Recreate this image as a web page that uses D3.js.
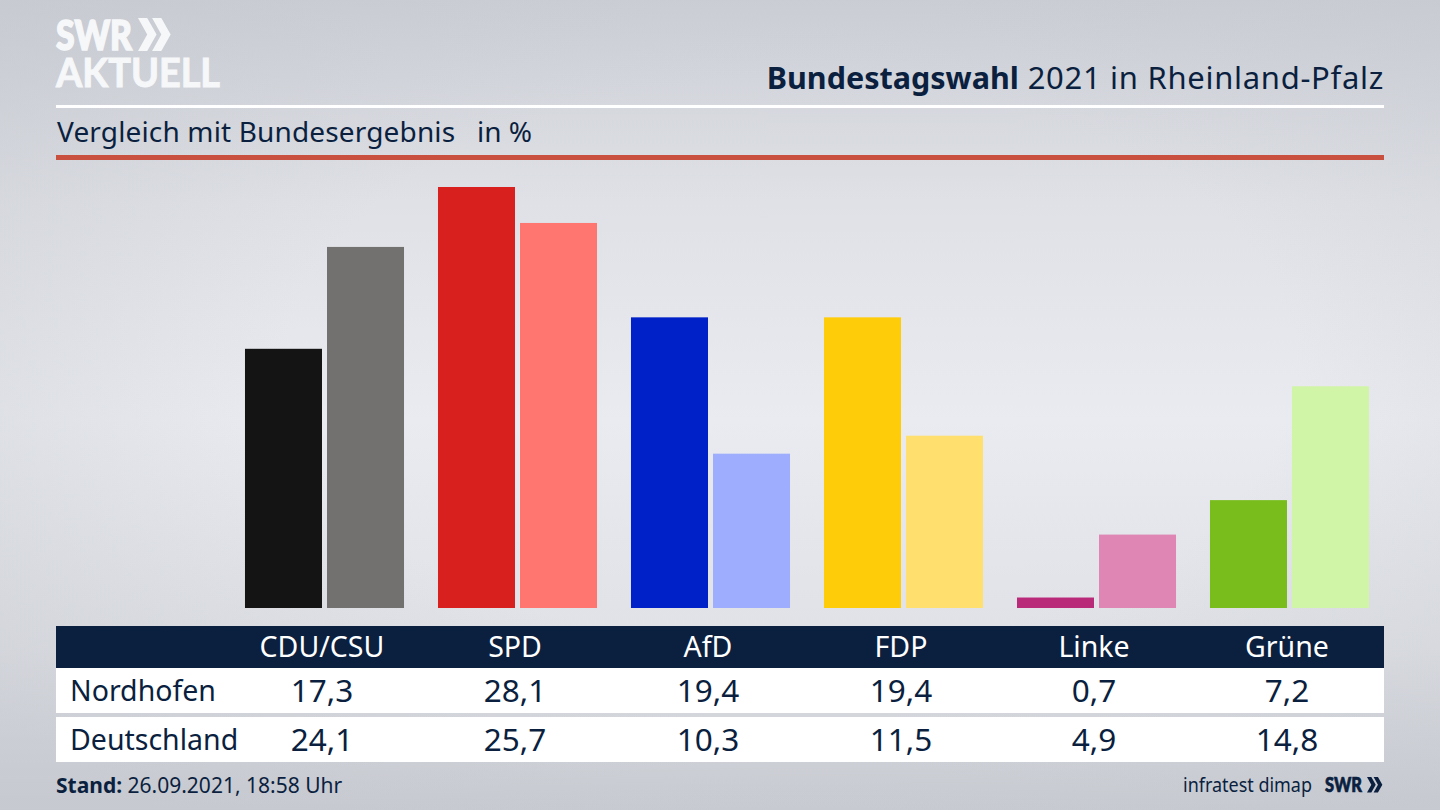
<!DOCTYPE html>
<html>
<head>
<meta charset="utf-8">
<script src="https://cdn.jsdelivr.net/npm/d3@7"></script>
<style>
    html, body { margin: 0; padding: 0; overflow: hidden; background: #d8dbe0; }
    svg { display: block; }
    text { font-family: "Noto Sans", sans-serif; fill: #0b1f3f; }
</style>
</head>
<body>
<script>
const parties = ["CDU/CSU", "SPD", "AfD", "FDP", "Linke", "Grüne"];
const regions = ["Nordhofen", "Deutschland"];
const nordhofen = [17.3, 28.1, 19.4, 19.4, 0.7, 7.2];
const deutschland = [24.1, 25.7, 10.3, 11.5, 4.9, 14.8];
const strongColors = ["#141414", "#d8201f", "#0021c8", "#ffcc0a", "#b92a78", "#79bd1c"];
const lightColors = ["#72716f", "#ff7570", "#9fadff", "#ffdf6e", "#e086b5", "#d1f5a6"];

const WIDTH = 1440;
const HEIGHT = 810;
const NAVY = "#0b1f3f";
const LOGO_WHITE = "#f6f7f9";

const svg = d3.select("body").append("svg")
    .attr("width", WIDTH)
    .attr("height", HEIGHT);

// background: grey at the top and bottom edges, lighter band through the middle
const defs = svg.append("defs");
const bg = defs.append("linearGradient").attr("id", "bg")
    .attr("x1", 0).attr("y1", 0).attr("x2", 0).attr("y2", 1);
bg.append("stop").attr("offset", "0%").attr("stop-color", "#cbced5");
bg.append("stop").attr("offset", "25%").attr("stop-color", "#dfe1e6");
bg.append("stop").attr("offset", "52%").attr("stop-color", "#e9ebf0");
bg.append("stop").attr("offset", "80%").attr("stop-color", "#dfe1e6");
bg.append("stop").attr("offset", "100%").attr("stop-color", "#c8cbd1");
const vignette = defs.append("radialGradient").attr("id", "vignette")
    .attr("cx", "55%").attr("cy", "45%").attr("r", "70%");
vignette.append("stop").attr("offset", "50%").attr("stop-color", "#c4c7ce").attr("stop-opacity", 0);
vignette.append("stop").attr("offset", "100%").attr("stop-color", "#c4c7ce").attr("stop-opacity", 0.5);

svg.append("rect").attr("width", WIDTH).attr("height", HEIGHT).attr("fill", "url(#bg)");
svg.append("rect").attr("width", WIDTH).attr("height", HEIGHT).attr("fill", "url(#vignette)");

// scales
const x = d3.scaleBand().domain(parties).range([228, 1386]).paddingInner(0.176).paddingOuter(0.088);
const inner = d3.scaleBand().domain(regions).range([0, x.bandwidth()]).paddingInner(0.061);
const y = d3.scaleLinear().domain([0, 28.1]).range([608, 187]);

// bars
const groups = svg.append("g").selectAll("g")
    .data(parties)
    .enter().append("g")
    .attr("transform", d => `translate(${x(d)},0)`);

groups.append("rect")
    .attr("x", inner("Nordhofen"))
    .attr("width", inner.bandwidth())
    .attr("y", (d, i) => y(nordhofen[i]))
    .attr("height", (d, i) => y(0) - y(nordhofen[i]))
    .attr("fill", (d, i) => strongColors[i]);

groups.append("rect")
    .attr("x", inner("Deutschland"))
    .attr("width", inner.bandwidth())
    .attr("y", (d, i) => y(deutschland[i]))
    .attr("height", (d, i) => y(0) - y(deutschland[i]))
    .attr("fill", (d, i) => lightColors[i]);

// header
svg.append("rect").attr("x", 56).attr("y", 105).attr("width", 1328).attr("height", 3).attr("fill", "#fff");
svg.append("rect").attr("x", 56).attr("y", 155).attr("width", 1328).attr("height", 5).attr("fill", "#c9503f");

const title = svg.append("text")
    .attr("x", 1384).attr("y", 89)
    .attr("text-anchor", "end")
    .attr("font-size", 30.5);
title.append("tspan").attr("font-weight", 700).text("Bundestagswahl");
title.append("tspan").attr("font-size", 31).attr("letter-spacing", 0.7).text(" 2021 in Rheinland-Pfalz");

svg.append("text")
    .attr("x", 57).attr("y", 142)
    .attr("font-size", 28)
    .attr("letter-spacing", 0.15)
    .text("Vergleich mit Bundesergebnis");
svg.append("text")
    .attr("x", 477).attr("y", 142)
    .attr("font-size", 28)
    .text("in %");

// logo
svg.append("text")
    .attr("x", 56).attr("y", 50)
    .attr("font-weight", 900)
    .attr("font-size", 41)
    .attr("textLength", 76)
    .attr("lengthAdjust", "spacingAndGlyphs")
    .attr("stroke", LOGO_WHITE)
    .attr("stroke-width", 1.6)
    .style("font-family", "Lato")
    .style("fill", LOGO_WHITE)
    .text("SWR");
svg.append("text")
    .attr("x", 56).attr("y", 87)
    .attr("font-weight", 700)
    .attr("font-size", 41)
    .attr("textLength", 164)
    .attr("lengthAdjust", "spacingAndGlyphs")
    .attr("stroke", LOGO_WHITE)
    .attr("stroke-width", 1)
    .style("font-family", "Lato")
    .style("fill", LOGO_WHITE)
    .text("AKTUELL");
function chevrons(parent, x0, top, h, color) {
    const w = h * 0.45;
    [0, w * 0.95].forEach(dx => {
        parent.append("path")
            .attr("d", d3.line()([
                [x0 + dx, top], [x0 + dx + w * 0.62, top], [x0 + dx + w * 1.25, top + h / 2],
                [x0 + dx + w * 0.62, top + h], [x0 + dx, top + h], [x0 + dx + w * 0.62, top + h / 2]
            ]) + "Z")
            .attr("fill", color);
    });
}
chevrons(svg, 138, 18, 33, LOGO_WHITE);

// table
const tableX = 56, tableW = 1328;
svg.append("rect").attr("x", tableX).attr("y", 626).attr("width", tableW).attr("height", 42).attr("fill", NAVY);
svg.append("rect").attr("x", tableX).attr("y", 668).attr("width", tableW).attr("height", 45).attr("fill", "#fff");
svg.append("rect").attr("x", tableX).attr("y", 717).attr("width", tableW).attr("height", 45).attr("fill", "#fff");

// table columns sit on the right edge of each party's first bar
const center = d => x(d) + inner.bandwidth();

svg.append("g").selectAll("text")
    .data(parties)
    .enter().append("text")
    .attr("x", center)
    .attr("y", 657)
    .attr("text-anchor", "middle")
    .attr("font-size", 28.5)
    .style("fill", "#fff")
    .text(d => d);

const formatValue = v => v.toFixed(1).replace(".", ",");

[[nordhofen, 701], [deutschland, 750]].forEach(([values, baseline], r) => {
    svg.append("text")
        .attr("x", 70).attr("y", baseline)
        .attr("font-size", 28.5)
        .text(regions[r]);
    svg.append("g").selectAll("text")
        .data(values)
        .enter().append("text")
        .attr("x", (d, i) => center(parties[i]))
        .attr("y", baseline + 1)
        .attr("text-anchor", "middle")
        .attr("font-size", 31.5)
        .text(formatValue);
});

// footer
const stand = svg.append("text").attr("x", 56).attr("y", 793).attr("font-size", 21);
stand.append("tspan").attr("font-weight", 700).text("Stand:");
stand.append("tspan").text(" 26.09.2021, 18:58 Uhr");

svg.append("text")
    .attr("x", 1183).attr("y", 792)
    .attr("font-size", 19.5)
    .attr("textLength", 129)
    .attr("lengthAdjust", "spacingAndGlyphs")
    .text("infratest dimap");
svg.append("text")
    .attr("x", 1325).attr("y", 792)
    .attr("font-weight", 900)
    .attr("font-size", 20)
    .attr("textLength", 37)
    .attr("lengthAdjust", "spacingAndGlyphs")
    .attr("stroke", NAVY)
    .attr("stroke-width", 0.7)
    .style("font-family", "Lato")
    .text("SWR");
chevrons(svg, 1367, 777, 15.5, NAVY);
</script>
</body>
</html>
